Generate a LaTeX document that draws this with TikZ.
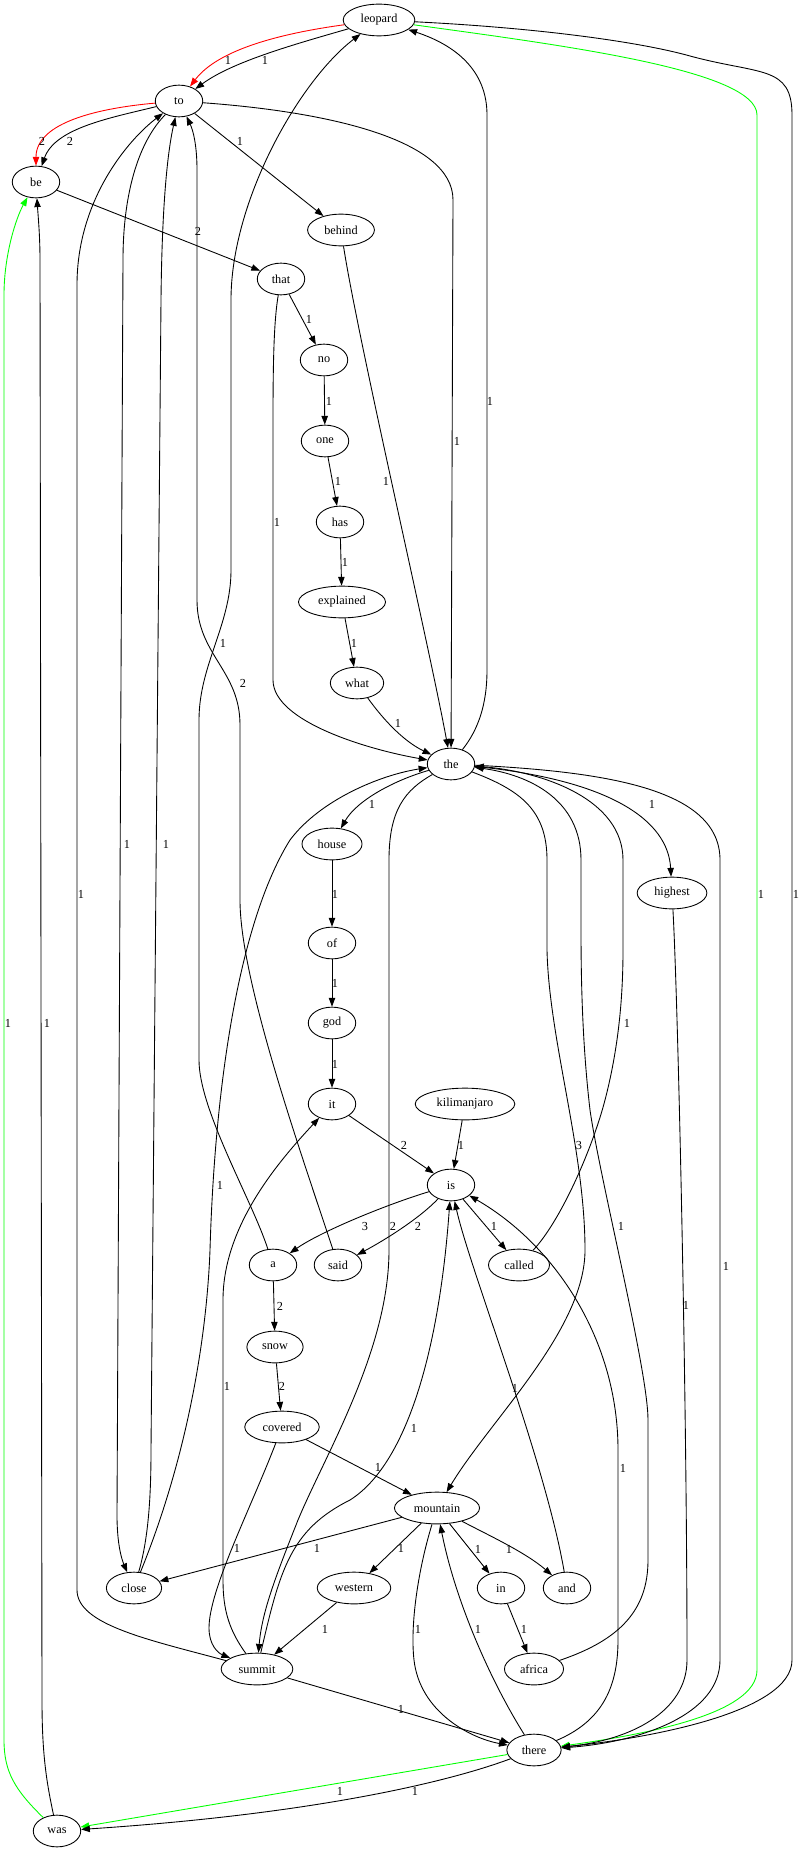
\documentclass[tikz,border=0pt]{standalone}
\usepackage{fontspec}
\setmainfont{Liberation Serif}
\usetikzlibrary{arrows.meta,shapes.geometric}
\definecolor{linkred}{RGB}{255,0,0}
\definecolor{linkgreen}{RGB}{0,255,0}
\tikzset{
  word/.style={
    ellipse,
    draw=black,
    line width=0.66pt,
    inner xsep=5.2pt,
    inner ysep=2.6pt,
    minimum width=35.6pt,
    minimum height=23.8pt,
    font=\fontsize{9.2pt}{11pt}\selectfont
  },
  link/.style={
    draw=black,
    line width=0.66pt,
    -{Triangle[length=6.6pt,width=4.8pt]}
  },
  link-red/.style={link, draw=linkred},
  link-green/.style={link, draw=linkgreen},
  weight/.style={inner sep=0pt, font=\fontsize{9.2pt}{11pt}\selectfont}
}

\begin{document}
\begin{tikzpicture}[x=0.75pt,y=-0.75pt]
  \useasboundingbox (0,0) rectangle (800,1851);

  % words
  \node[word] (leopard) at (379,20) {leopard};
  \node[word] (to) at (179,101) {to};
  \node[word] (be) at (36,182) {be};
  \node[word] (behind) at (341,230) {behind};
  \node[word] (that) at (281,279) {that};
  \node[word] (no) at (324,360) {no};
  \node[word] (one) at (325,441) {one};
  \node[word] (has) at (340,522) {has};
  \node[word] (explained) at (342,602) {explained};
  \node[word] (what) at (357,683) {what};
  \node[word] (the) at (451,764) {the};
  \node[word] (house) at (332,844) {house};
  \node[word] (highest) at (672,893) {highest};
  \node[word] (of) at (332,943) {of};
  \node[word] (god) at (332,1023) {god};
  \node[word] (it) at (332,1104) {it};
  \node[word] (kilimanjaro) at (465,1104) {kilimanjaro};
  \node[word] (is) at (451,1185) {is};
  \node[word] (a) at (273,1265) {a};
  \node[word] (said) at (338,1265) {said};
  \node[word] (called) at (519,1265) {called};
  \node[word] (snow) at (275,1347) {snow};
  \node[word] (covered) at (282,1427) {covered};
  \node[word] (mountain) at (437,1508) {mountain};
  \node[word] (close) at (134,1588) {close};
  \node[word] (western) at (354,1588) {western};
  \node[word] (in) at (501,1588) {in};
  \node[word] (and) at (567,1588) {and};
  \node[word] (summit) at (257,1669) {summit};
  \node[word] (africa) at (534,1669) {africa};
  \node[word] (there) at (534,1750) {there};
  \node[word] (was) at (57,1831) {was};

  % links out of leopard and to
  \draw[link-red] (leopard) .. controls (262,36) and (214,55) .. (to);
  \draw[link] (leopard) .. controls (292,45) and (232,62) .. (to);
  \draw[link-green] (leopard) .. controls (560,45) and (757,70) .. (757,115)
    -- (757,1670) .. controls (757,1715) and (640,1735) .. (there);
  \draw[link] (leopard) .. controls (540,28) and (640,42) .. (690,56)
    .. controls (760,75) and (792,65) .. (792,115)
    -- (792,1660) .. controls (792,1712) and (650,1738) .. (there);
  \draw[link-red] (to) .. controls (100,108) and (36,122) .. (be);
  \draw[link] (to) .. controls (110,118) and (55,128) .. (be);
  \draw[link] (to) -- (behind);
  \draw[link] (to) .. controls (330,112) and (453,140) .. (453,200) -- (the);
  \draw[link] (to) .. controls (140,140) and (123,190) .. (123,260)
    -- (117,1515) .. controls (117,1545) and (122,1560) .. (close);
  \draw[link] (be) -- (that);

  % the clause down to the
  \draw[link] (behind) .. controls (358,340) and (428,640) .. (the);
  \draw[link] (that) -- (no);
  \draw[link] (that) .. controls (274,320) and (273,360) .. (273,420)
    -- (273,680) .. controls (273,722) and (370,750) .. (the);
  \draw[link] (no) -- (one);
  \draw[link] (one) -- (has);
  \draw[link] (has) -- (explained);
  \draw[link] (explained) -- (what);
  \draw[link] (what) .. controls (385,722) and (405,742) .. (the);

  % links out of the
  \draw[link] (the) .. controls (478,730) and (487,705) .. (487,670)
    -- (487,115) .. controls (487,70) and (455,45) .. (leopard);
  \draw[link] (the) .. controls (395,780) and (357,800) .. (house);
  \draw[link] (the) .. controls (610,780) and (668,820) .. (highest);
  \draw[link] (the) .. controls (520,790) and (547,810) .. (547,860)
    -- (547,950) .. controls (549,1040) and (585,1150) .. (585,1250)
    .. controls (585,1330) and (490,1420) .. (mountain);
  \draw[link] (the) .. controls (405,790) and (389,810) .. (389,860)
    -- (389,1250) .. controls (389,1350) and (325,1455) .. (298,1520)
    .. controls (275,1578) and (262,1612) .. (summit);
  \draw[link] (the) .. controls (610,772) and (720,790) .. (720,860)
    -- (720,1660) .. controls (720,1715) and (640,1742) .. (there);

  % house of god
  \draw[link] (house) -- (of);
  \draw[link] (of) -- (god);
  \draw[link] (god) -- (it);
  \draw[link] (it) -- (is);
  \draw[link] (kilimanjaro) -- (is);

  % links out of is
  \draw[link] (is) .. controls (385,1205) and (320,1232) .. (a);
  \draw[link] (is) .. controls (420,1218) and (385,1240) .. (said);
  \draw[link] (is) -- (called);

  % a, said, snow, covered
  \draw[link] (a) -- (snow);
  \draw[link] (a) .. controls (252,1200) and (199,1110) .. (199,1060)
    -- (199,720) .. controls (199,665) and (231,625) .. (231,570)
    -- (231,300) .. controls (231,200) and (300,80) .. (leopard);
  \draw[link] (said) .. controls (300,1150) and (240,980) .. (240,900)
    -- (240,725) .. controls (240,670) and (197,655) .. (197,600)
    -- (197,170) .. controls (197,145) and (193,130) .. (to);
  \draw[link] (snow) -- (covered);
  \draw[link] (covered) -- (mountain);
  \draw[link] (covered) .. controls (250,1510) and (209,1590) .. (209,1628)
    .. controls (209,1645) and (218,1653) .. (summit);

  % links out of mountain
  \draw[link] (mountain) -- (close);
  \draw[link] (mountain) -- (western);
  \draw[link] (mountain) -- (in);
  \draw[link] (mountain) .. controls (488,1535) and (525,1552) .. (and);
  \draw[link] (mountain) .. controls (418,1570) and (410,1625) .. (414,1660)
    .. controls (420,1712) and (470,1738) .. (there);

  % close, western, in
  \draw[link] (close) .. controls (148,1540) and (151,1500) .. (151,1450)
    -- (161,300) .. controls (162,200) and (168,150) .. (to);
  \draw[link] (close) .. controls (190,1450) and (207,1330) .. (210,1250)
    .. controls (215,1080) and (240,920) .. (290,840)
    .. controls (320,800) and (380,775) .. (the);
  \draw[link] (western) -- (summit);
  \draw[link] (in) -- (africa);

  % links out of summit
  \draw[link] (summit) .. controls (150,1640) and (77,1625) .. (77,1590)
    -- (77,285) .. controls (77,200) and (128,140) .. (to);
  \draw[link] (summit) .. controls (280,1570) and (290,1530) .. (350,1500)
    .. controls (410,1462) and (440,1340) .. (is);
  \draw[link] (summit) .. controls (229,1630) and (223,1610) .. (223,1580)
    -- (223,1300) .. controls (223,1225) and (280,1160) .. (it);
  \draw[link] (summit) -- (there);

  % back up to the
  \draw[link] (africa) .. controls (620,1640) and (648,1610) .. (648,1560)
    -- (648,1420) .. controls (648,1370) and (600,1180) .. (590,1110)
    .. controls (583,1050) and (581,990) .. (581,930)
    -- (581,860) .. controls (581,800) and (530,775) .. (the);
  \draw[link] (called) .. controls (560,1222) and (592,1150) .. (605,1100)
    .. controls (618,1050) and (623,1000) .. (623,950)
    -- (623,860) .. controls (623,800) and (545,772) .. (the);
  \draw[link] (and) .. controls (545,1460) and (470,1270) .. (is);

  % links out of there, highest, was
  \draw[link] (there) .. controls (490,1680) and (455,1600) .. (mountain);
  \draw[link] (there) .. controls (600,1722) and (618,1690) .. (618,1640)
    -- (618,1450) .. controls (618,1340) and (555,1245) .. (is);
  \draw[link-green] (there) -- (was);
  \draw[link] (there) .. controls (440,1785) and (300,1815) .. (was);
  \draw[link] (highest) .. controls (678,1000) and (687,1400) .. (687,1660)
    .. controls (687,1712) and (630,1740) .. (there);
  \draw[link-green] (was) .. controls (15,1790) and (4,1772) .. (4,1740)
    -- (4,295) .. controls (4,255) and (16,218) .. (be);
  \draw[link] (was) .. controls (46,1780) and (42,1752) .. (42,1700)
    -- (40,260) .. controls (40,235) and (38,215) .. (be);

  % weights
  \node[weight] (w-leopard-to-red) at (228,60) {1};
  \node[weight] (w-leopard-to) at (265,60) {1};
  \node[weight] (w-to-be-red) at (42,141) {2};
  \node[weight] (w-to-be) at (70,141) {2};
  \node[weight] (w-to-behind) at (240,141) {1};
  \node[weight] (w-to-the) at (457,441) {1};
  \node[weight] (w-be-that) at (198,231) {2};
  \node[weight] (w-behind-the) at (386,481) {1};
  \node[weight] (w-that-no) at (309,319) {1};
  \node[weight] (w-that-the) at (277,522) {1};
  \node[weight] (w-no-one) at (329,401) {1};
  \node[weight] (w-one-has) at (338,481) {1};
  \node[weight] (w-has-explained) at (345,562) {1};
  \node[weight] (w-explained-what) at (354,643) {1};
  \node[weight] (w-what-the) at (398,723) {1};
  \node[weight] (w-the-leopard) at (490,401) {1};
  \node[weight] (w-the-house) at (372,804) {1};
  \node[weight] (w-the-highest) at (652,804) {1};
  \node[weight] (w-house-of) at (335,894) {1};
  \node[weight] (w-of-god) at (335,983) {1};
  \node[weight] (w-god-it) at (335,1064) {1};
  \node[weight] (w-it-is) at (404,1145) {2};
  \node[weight] (w-kilimanjaro-is) at (461,1145) {1};
  \node[weight] (w-the-mountain) at (579,1145) {3};
  \node[weight] (w-is-a) at (365,1226) {3};
  \node[weight] (w-the-summit) at (393,1226) {2};
  \node[weight] (w-is-said) at (418,1226) {2};
  \node[weight] (w-is-called) at (494,1226) {1};
  \node[weight] (w-africa-the) at (621,1226) {1};
  \node[weight] (w-called-the) at (627,1023) {1};
  \node[weight] (w-the-there) at (726,1266) {1};
  \node[weight] (w-highest-there) at (686,1305) {1};
  \node[weight] (w-a-snow) at (280,1306) {2};
  \node[weight] (w-snow-covered) at (282,1386) {2};
  \node[weight] (w-summit-it) at (227,1386) {1};
  \node[weight] (w-close-the) at (220,1185) {1};
  \node[weight] (w-summit-is) at (414,1428) {1};
  \node[weight] (w-and-is) at (515,1388) {1};
  \node[weight] (w-there-is) at (623,1468) {1};
  \node[weight] (w-covered-mountain) at (378,1467) {1};
  \node[weight] (w-covered-summit) at (237,1548) {1};
  \node[weight] (w-mountain-close) at (317,1548) {1};
  \node[weight] (w-mountain-western) at (401,1548) {1};
  \node[weight] (w-mountain-in) at (478,1549) {1};
  \node[weight] (w-mountain-and) at (509,1549) {1};
  \node[weight] (w-western-summit) at (325,1629) {1};
  \node[weight] (w-mountain-there) at (418,1629) {1};
  \node[weight] (w-there-mountain) at (478,1629) {1};
  \node[weight] (w-in-africa) at (524,1629) {1};
  \node[weight] (w-summit-there) at (401,1709) {1};
  \node[weight] (w-there-was-green) at (340,1791) {1};
  \node[weight] (w-there-was) at (415,1791) {1};
  \node[weight] (w-was-be-green) at (8,1023) {1};
  \node[weight] (w-was-be) at (47,1023) {1};
  \node[weight] (w-summit-to) at (81,894) {1};
  \node[weight] (w-to-close) at (127,844) {1};
  \node[weight] (w-close-to) at (166,844) {1};
  \node[weight] (w-a-leopard) at (223,643) {1};
  \node[weight] (w-said-to) at (243,683) {2};
  \node[weight] (w-leopard-there-green) at (761,894) {1};
  \node[weight] (w-leopard-there) at (796,894) {1};
\end{tikzpicture}
\end{document}
